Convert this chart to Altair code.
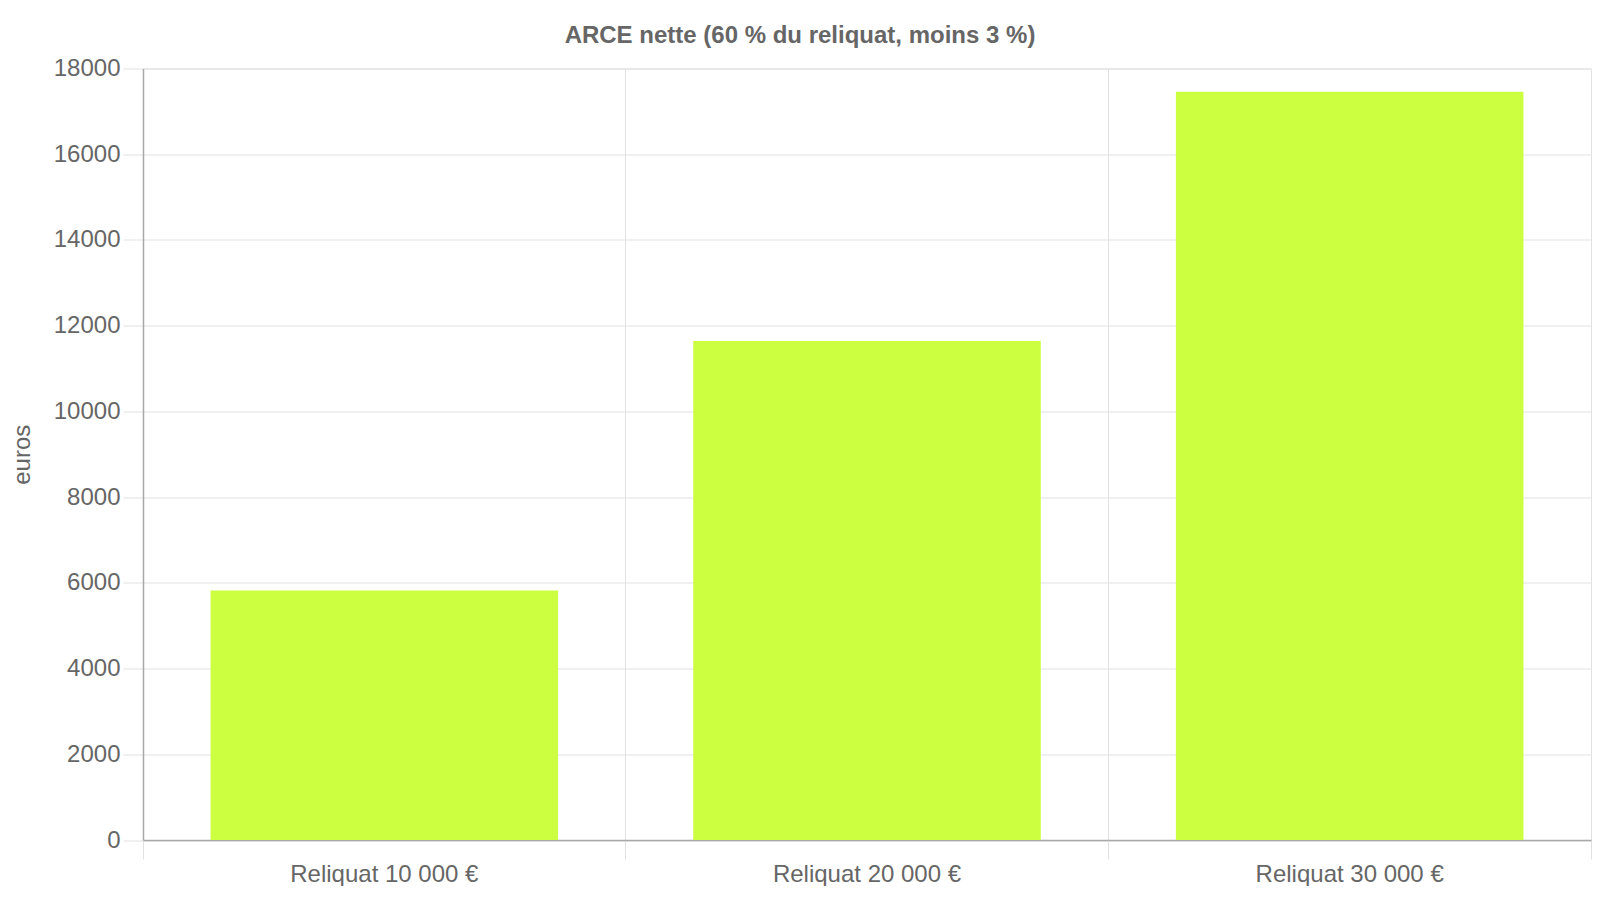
import altair as alt
import pandas as pd

categories = ["Reliquat 10 000 €", "Reliquat 20 000 €", "Reliquat 30 000 €"]
values = [5820, 11640, 17460]

df = pd.DataFrame({"cat": categories, "val": values})

FONT = "Liberation Sans"
TEXT = "#666666"
GRID = "#e1e1e1"
DOMAIN = "#a8a8a8"

chart = alt.Chart(df).mark_bar(color="#ccff40", width=alt.RelativeBandSize(0.72)).encode(
    x=alt.X("cat:N", sort=categories,
            scale=alt.Scale(paddingInner=0, paddingOuter=0),
            axis=alt.Axis(title=None, labelAngle=0, labelFont=FONT, labelFontSize=24,
                          labelColor=TEXT, labelLimit=0, grid=True, gridColor=GRID,
                          bandPosition=1, tickExtra=True, ticks=True, tickSize=19,
                          tickColor=GRID, labelPadding=3, domainColor=DOMAIN,
                          domainWidth=1.5)),
    y=alt.Y("val:Q", scale=alt.Scale(domain=[0, 18000], nice=False),
            axis=alt.Axis(title="euros", values=list(range(0, 18001, 2000)), format="d",
                          labelFont=FONT, labelFontSize=24, labelColor=TEXT,
                          titleFont=FONT, titleFontSize=24, titleColor=TEXT,
                          titleFontWeight="normal", titleX=-121, titleY=385.75,
                          titleAngle=270, titleBaseline="middle", titleAlign="center",
                          gridColor=GRID, tickColor=GRID, tickSize=20, labelPadding=3,
                          domainColor=DOMAIN, domainWidth=1.5)),
).properties(
    width=1448, height=771.5,
    autosize=alt.AutoSizeParams(type="none"),
    padding={"left": 135, "top": 60.5, "right": 1, "bottom": 46},
    title=alt.TitleParams("ARCE nette (60 % du reliquat, moins 3 %)", font=FONT,
                          fontSize=24, fontWeight="bold", color=TEXT, anchor="middle",
                          dx=-67, offset=9),
).configure_view(stroke=GRID)

chart.save("out.html", embed_options={"renderer": "svg", "actions": False})
